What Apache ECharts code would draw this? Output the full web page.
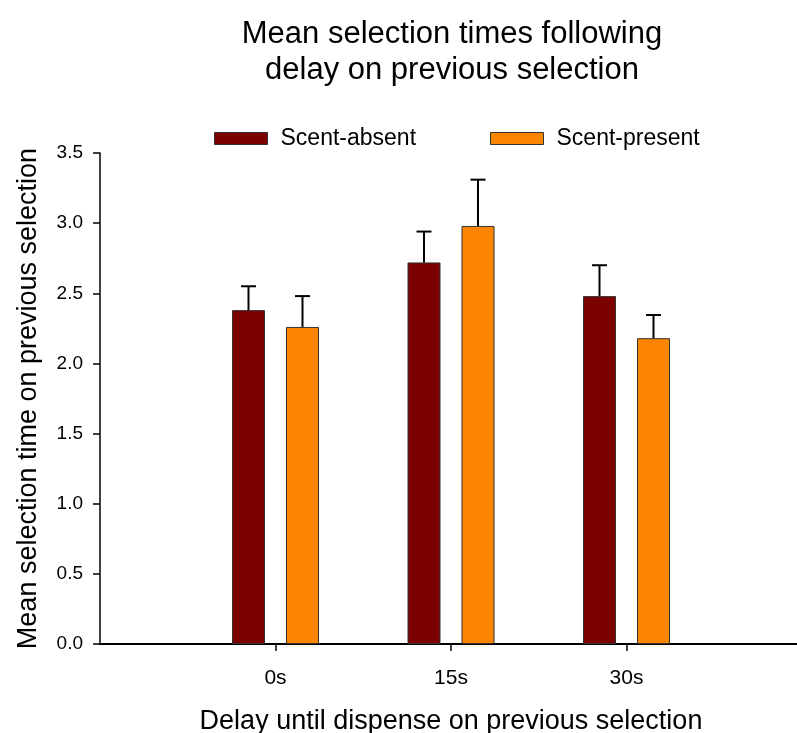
<!DOCTYPE html>
<html>
<head>
<meta charset="utf-8">
<script src="https://cdn.jsdelivr.net/npm/echarts@6/dist/echarts.min.js"></script>
<style>html,body{margin:0;padding:0;background:#fff}#c{width:797px;height:733px}</style>
</head>
<body>
<div id="c"></div>
<script>
const categories = ['0s', '15s', '30s'];
const absentMean = [2.38, 2.72, 2.48];
const absentErr = [0.17, 0.22, 0.22];
const presentMean = [2.26, 2.98, 2.18];
const presentErr = [0.22, 0.33, 0.165];
const yTicks = [0, 0.5, 1.0, 1.5, 2.0, 2.5, 3.0, 3.5];

const FONT = 'Liberation Sans, Arial, sans-serif';
const BAR_W = 33, BAR_GAP_PX = 21;
const xData = [''].concat(categories).concat(['']);
const pad = arr => ['-'].concat(arr).concat(['-']);

function errSeries(means, errs, dir) {
  const data = means.map((m, i) => [i + 1, m, errs[i]]);
  return {
    type: 'custom',
    silent: true,
    z: 5,
    data: data,
    renderItem: function (params, api) {
      const idx = api.value(0), m = api.value(1), e = api.value(2);
      const base = api.coord([idx, m]);
      const top = api.coord([idx, m + e]);
      const x = base[0] + dir * (BAR_W + BAR_GAP_PX) / 2;
      const cap = 7.5;
      const st = { stroke: '#000', lineWidth: 2 };
      return {
        type: 'group',
        children: [
          { type: 'line', shape: { x1: x, y1: base[1], x2: x, y2: top[1] }, style: st },
          { type: 'line', shape: { x1: x - cap, y1: top[1], x2: x + cap, y2: top[1] }, style: st }
        ]
      };
    }
  };
}

const chart = echarts.init(document.getElementById('c'), null, { renderer: 'canvas' });
chart.setOption({
  backgroundColor: '#fff',
  animation: false,
  textStyle: { fontFamily: FONT },
  title: {
    text: 'Mean selection times following\ndelay on previous selection',
    left: 447, textAlign: 'center', top: 11,
    textStyle: { fontFamily: FONT, fontSize: 31, fontWeight: 'normal', color: '#000', lineHeight: 36 }
  },
  legend: {
    data: ['Scent-absent', 'Scent-present'],
    left: 214, top: 127, padding: 0,
    itemWidth: 53, itemHeight: 12, itemGap: 74,
    icon: 'rect',
    textStyle: { fontFamily: FONT, fontSize: 23, color: '#000', padding: [0, 0, 0, 8] },
    itemStyle: { borderColor: '#333', borderWidth: 1 }
  },
  grid: { left: 100, top: 153, right: -5, bottom: 89, outerBoundsMode: 'none', containLabel: false },
  xAxis: {
    type: 'category',
    data: xData,
    boundaryGap: false,
    name: 'Delay until dispense on previous selection',
    nameLocation: 'middle', nameGap: 64,
    nameTextStyle: { fontFamily: FONT, fontSize: 27, color: '#000' },
    axisLine: { lineStyle: { color: '#000', width: 2 } },
    axisTick: { show: true, length: 7, lineStyle: { color: '#000', width: 1.5 },
      interval: (i) => i > 0 && i < xData.length - 1 },
    axisLabel: { fontFamily: FONT, fontSize: 21, color: '#000', margin: 24, interval: 0 },
    splitLine: { show: false }
  },
  yAxis: {
    type: 'value',
    min: 0, max: 3.5, interval: 0.5,
    name: 'Mean selection time on previous selection',
    nameLocation: 'middle', nameGap: 58, nameRotate: 90,
    nameTextStyle: { fontFamily: FONT, fontSize: 27, color: '#000' },
    axisLine: { show: true, lineStyle: { color: '#000', width: 1.5 } },
    axisTick: { show: true, length: 7, lineStyle: { color: '#000', width: 1.5 } },
    axisLabel: { fontFamily: FONT, fontSize: 19, color: '#000', margin: 17,
      formatter: v => yTicks.includes(v) ? v.toFixed(1) : '' },
    splitLine: { show: false }
  },
  series: [
    {
      name: 'Scent-absent', type: 'bar', data: pad(absentMean),
      barWidth: BAR_W, barGap: (BAR_GAP_PX / BAR_W * 100) + '%',
      itemStyle: { color: '#7b0000', borderColor: '#333', borderWidth: 1 }
    },
    {
      name: 'Scent-present', type: 'bar', data: pad(presentMean),
      barWidth: BAR_W,
      itemStyle: { color: '#fb8500', borderColor: '#333', borderWidth: 1 }
    },
    errSeries(absentMean, absentErr, -1),
    errSeries(presentMean, presentErr, 1)
  ]
});
</script>
</body>
</html>
